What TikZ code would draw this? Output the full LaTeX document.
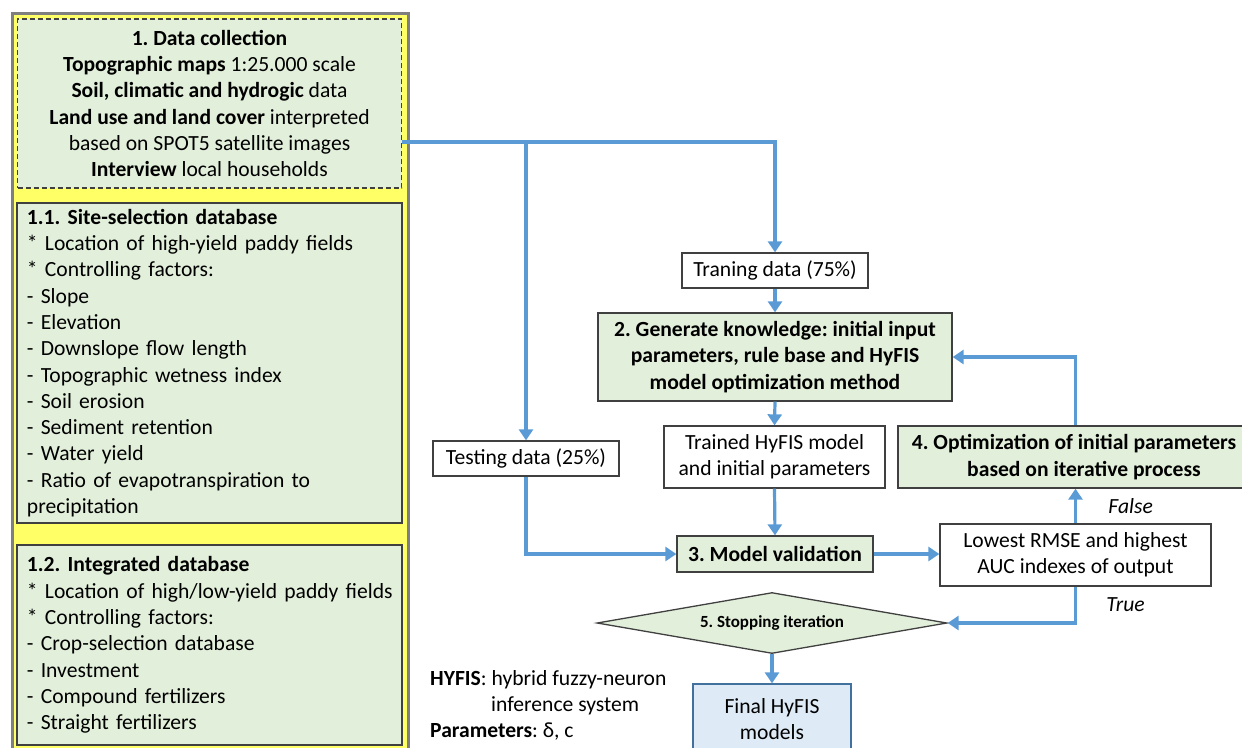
\documentclass[tikz,border=0pt]{standalone}
\usepackage{fontspec}
\setmainfont{Carlito}
\frenchspacing
\usetikzlibrary{arrows.meta,shapes.geometric,positioning}

\definecolor{flowblue}{HTML}{5B9BD5}
\definecolor{boxgreen}{HTML}{E2EFDA}
\definecolor{boxline}{HTML}{404040}
\definecolor{panelyellow}{HTML}{FFFF66}
\definecolor{panelgray}{HTML}{7F7F7F}
\definecolor{finalblue}{HTML}{DEEBF7}
\definecolor{finalline}{HTML}{41719C}

\tikzset{
	greenbox/.style={rectangle, draw=boxline, line width=1.3pt, fill=boxgreen, inner sep=0pt, align=center},
	whitebox/.style={rectangle, draw=boxline, line width=1.3pt, fill=white, inner sep=0pt, align=center},
	listbox/.style={greenbox, inner xsep=10pt, text width=365pt, align=left},
	flow/.style={draw=flowblue, line width=3.2pt, -{Triangle[width=14pt,length=11pt]}}
}

\begin{document}
\begin{tikzpicture}[x=1pt,y=-1pt,font=\fontsize{21.6}{26.3}\selectfont]
	\useasboundingbox (0,0) rectangle (1242,747);

	% left panel
	\node 	(panel)		at	(210,400)	[rectangle, draw=panelgray, line width=3pt, fill=panelyellow, minimum width=396pt, minimum height=774pt]{};

	\node 	(dc)		at	(209.5,103.5)	[greenbox, dash pattern=on 5pt off 3pt, minimum width=384pt, minimum height=169pt]
		{{\bfseries 1. Data collection}\\
		 {\bfseries Topographic maps} 1:25.000 scale\\
		 {\bfseries Soil, climatic and hydrogic} data\\
		 {\bfseries Land use and land cover} interpreted\\
		 based on SPOT5 satellite images\\
		 {\bfseries Interview} local households};

	\node 	(site)		at	(209.5,363)	[listbox, minimum height=320pt]
		{{\bfseries 1.1. Site-selection database}\\
		 {*} Location of high-yield paddy fields\\
		 {*} Controlling factors:\\
		 - Slope\\
		 - Elevation\\
		 - Downslope flow length\\
		 - Topographic wetness index\\
		 - Soil erosion\\
		 - Sediment retention\\
		 - Water yield\\
		 - Ratio of evapotranspiration to\\
		 precipitation};

	\node 	(integ)		at	(209.5,645)	[listbox, minimum height=200pt]
		{{\bfseries 1.2. Integrated database}\\
		 \mbox{{*} Location of high/low-yield paddy fields}\\
		 {*} Controlling factors:\\
		 - Crop-selection database\\
		 - Investment\\
		 - Compound fertilizers\\
		 - Straight fertilizers};

	% model flow
	\node 	(train)		at	(775,270.5)	[whitebox, minimum width=186pt, minimum height=35pt]{Traning data (75\%)};

	\node 	(gen)		at	(775,357)	[greenbox, minimum width=354pt, minimum height=88pt, font=\fontsize{21.6}{26.3}\selectfont\bfseries]
		{2. Generate knowledge: initial input\\ parameters, rule base and HyFIS\\ model optimization method};

	\node 	(trained)	at	(774.5,457)	[whitebox, minimum width=221pt, minimum height=62pt]{Trained HyFIS model\\ and initial parameters};

	\node 	(test)		at	(526,458.5)	[whitebox, minimum width=186pt, minimum height=35pt]{Testing data (25\%)};

	\node 	(valid)		at	(775,554)	[greenbox, minimum width=196pt, minimum height=36pt, font=\fontsize{21.6}{26.3}\selectfont\bfseries]{3. Model validation};

	\node 	(low)		at	(1075.5,555)	[whitebox, minimum width=271pt, minimum height=62pt]{Lowest RMSE and highest\\ AUC indexes of output};

	\node 	(opt)		at	(1079,457)	[greenbox, minimum width=362pt, minimum height=62pt, font=\fontsize{21.6}{26.3}\selectfont\bfseries]
		{\hspace*{-10pt}4. Optimization of initial parameters\\ based on iterative process\hspace*{-10pt}};

	\node 	(stop)		at	(772,623)	[diamond, aspect=5.74, draw=boxline, line width=1.3pt, fill=boxgreen, inner sep=0pt, minimum width=350pt, minimum height=61pt, font=\fontsize{17}{20}\selectfont\bfseries]{5. Stopping iteration};

	\node 	(final)		at	(772,719)	[rectangle, draw=finalline, line width=1.3pt, fill=finalblue, inner sep=0pt, align=center, minimum width=158pt, minimum height=70pt]{Final HyFIS\\ models};

	\node 	(note)		at	(430,670)	[anchor=north west, inner sep=0pt, align=left]
		{{\bfseries HYFIS}: hybrid fuzzy-neuron\\
		 \hspace*{61pt}inference system\\
		 {\bfseries Parameters}: δ, c};

	% connectors
	\draw[flow] ([yshift=-38.5pt]dc.east) -| (train.north);
	\draw[flow] ([yshift=-38.5pt]dc.east) -| (test.north);
	\draw[flow] (train.south) -- (gen.north);
	\draw[flow] (gen.south) -- (trained.north);
	\draw[flow] (trained.south) -- (valid.north);
	\draw[flow] (test.south) |- (valid.west);
	\draw[flow] (valid.east) -- (valid.east -| low.west);
	\draw[flow] (low.north) -- (low.north |- opt.south)
		node[midway, anchor=west, xshift=28pt]{\itshape False};
	\draw[flow] (opt.north -| low.north) |- (gen.east);
	\draw[flow] (low.south) |- (stop.east)
		node[pos=0.25, anchor=west, xshift=26pt]{\itshape True};
	\draw[flow] (stop.south) -- (final.north);

\end{tikzpicture}
\end{document}
